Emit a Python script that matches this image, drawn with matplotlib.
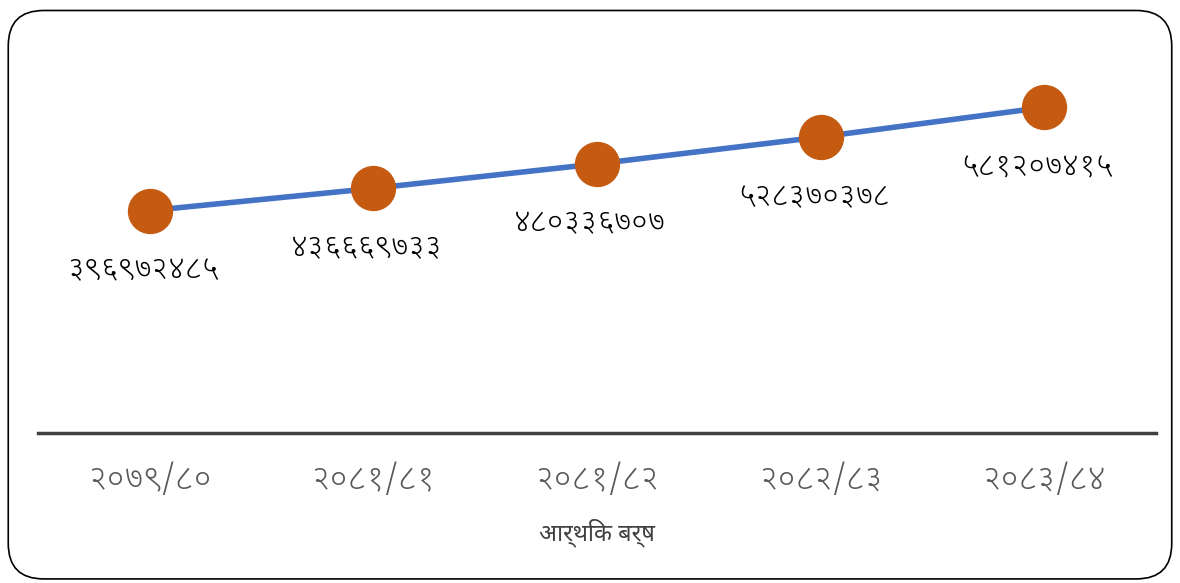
import matplotlib
matplotlib.use("Agg")
import matplotlib.pyplot as plt
from matplotlib import font_manager
from matplotlib.patches import FancyBboxPatch

years = ["२०७९/८०", "२०८१/८१", "२०८१/८२", "२०८२/८३", "२०८३/८४"]
values = [396972485, 436669733, 480336707, 528370378, 581207415]
labels = ["३९६९७२४८५", "४३६६६९७३३", "४८०३३६७०७", "५२८३७०३७८", "५८१२०७४१५"]
xlabel = "आर्थिक बर्ष"

names = {f.name for f in font_manager.fontManager.ttflist}
fams = [n for n in ["Noto Sans Devanagari UI", "Noto Sans Devanagari", "Hind"] if n in names]
plt.rcParams["font.family"] = fams + ["DejaVu Sans"]

fig = plt.figure(figsize=(11.8, 5.83), dpi=100)
fig.patches.append(FancyBboxPatch((0.007, 0.007), 0.986, 0.975,
                                  boxstyle="round,pad=0,rounding_size=0.03",
                                  transform=fig.transFigure, fill=False,
                                  edgecolor="black", linewidth=1.2,
                                  mutation_aspect=1180 / 583))
ax = fig.add_axes([38 / 1180, 1 - 433 / 583, (1156 - 38) / 1180, (433 - 38) / 583])

x = list(range(len(years)))
ax.plot(x, values, color="#4472C4", linewidth=4, zorder=2)
ax.scatter(x, values, s=1000, color="#C55A11", zorder=3)
for xi, v, lab in zip(x, values, labels):
    ax.annotate(lab, (xi, v), xytext=(-5, -43), textcoords="offset points",
                ha="center", va="center", fontsize=22, color="black",
                fontweight=300)

ax.set_xlim(-0.5, 4.5)
ax.set_ylim(0, 705000000)
ax.set_xticks(x)
ax.set_xticklabels(years, fontsize=24, color="#595959", fontweight=300)
ax.tick_params(axis="x", length=0, pad=22)
ax.set_yticks([])
for s in ["top", "left", "right"]:
    ax.spines[s].set_visible(False)
ax.spines["bottom"].set_color("#404040")
ax.spines["bottom"].set_linewidth(2.5)
ax.set_xlabel(xlabel, fontsize=17, color="#404040", labelpad=15)

fig.savefig("out.png", dpi=100)
